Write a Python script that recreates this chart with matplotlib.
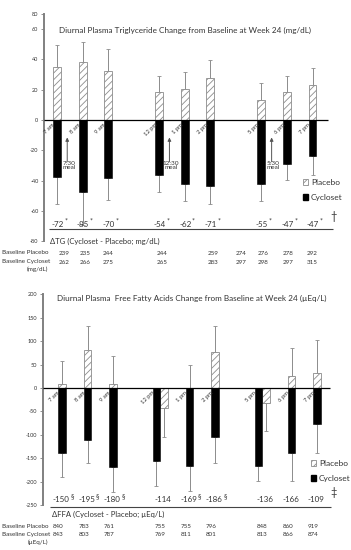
import numpy as np
import matplotlib
matplotlib.use('Agg')
import matplotlib.pyplot as plt
from matplotlib.patches import Patch

# ---------- style ---------- #
plt.rcParams['font.family'] = ['Lato', 'DejaVu Sans']
plt.rcParams['hatch.color'] = '#8c8c8c'
plt.rcParams['hatch.linewidth'] = 0.6

TXT = '#333333'
GREY = '#8c8c8c'
W, H = 351, 550

# ---------- data ---------- #
times = ['7 am', '8 am', '9 am', '12 pm', '1 pm', '2 pm', '5 pm', '6 pm', '7 pm']
slots = np.array([0, 1, 2, 4, 5, 6, 8, 9, 10])
meals = ['7:30\nmeal', '12:30\nmeal', '5:30\nmeal']
meal_slots = [0.4, 4.4, 8.4]

# triglycerides (mg/dL)
tg_placebo = np.array([35, 38.5, 32, 18.5, 20.5, 28, 13, 18.5, 23])
tg_placebo_err = np.array([14.5, 13, 15, 10.5, 11, 11.5, 11.5, 10.5, 11.5])
tg_cycloset = np.array([-37.5, -47.5, -38.5, -36.5, -42, -43.5, -42, -29, -24])
tg_cycloset_err = np.array([18, 22, 14, 11, 11.5, 12, 11.5, 10.5, 12.5])
tg_delta = ['-72', '-85', '-70', '-54', '-62', '-71', '-55', '-47', '-47']
tg_sig = [True] * 9
tg_base_placebo = ['239', '235', '244', '244', '259', '274', '276', '278', '292']
tg_base_cycloset = ['262', '266', '275', '265', '283', '297', '298', '297', '315']

# free fatty acids (uEq/L)
ffa_placebo = np.array([9, 81, 9, -43, 0, 77, -31, 26, 32])
ffa_placebo_err = np.array([49, 51, 59, 62, 49, 55, 60, 59, 71])
ffa_cycloset = np.array([-139, -111, -169, -156, -167, -105, -167, -139, -77])
ffa_cycloset_err = np.array([51, 49, 53, 53, 53, 55, 32, 60, 62])
ffa_delta = ['-150', '-195', '-180', '-114', '-169', '-186', '-136', '-166', '-109']
ffa_sig = [True, True, True, False, True, True, False, False, False]
ffa_base_placebo = ['840', '783', '761', '755', '755', '796', '848', '860', '919']
ffa_base_cycloset = ['843', '803', '787', '769', '811', '801', '813', '866', '874']


def fx(x):
    return x / W


def fy(y):
    return 1 - y / H


def style_axis(ax, ticks, labels):
    for s in ['top', 'right', 'bottom']:
        ax.spines[s].set_visible(False)
    ax.spines['left'].set_color('#808080')
    ax.spines['left'].set_linewidth(1.4)
    ax.set_xticks([])
    ax.set_yticks(ticks)
    ax.set_yticklabels(labels)
    ax.tick_params(axis='y', direction='out', length=2, width=0.6, color='#808080',
                   labelsize=4, labelcolor=TXT, pad=2)
    ax.patch.set_alpha(0)


def draw_bars(ax, placebo, p_err, cyc, c_err, width):
    # placebo drawn at the slot; when it is negative the cycloset bar moves left
    p_x = slots.astype(float)
    c_x = slots - np.where(placebo < 0, width, 0)
    ax.bar(p_x, placebo, width, color='white', edgecolor=GREY, linewidth=0.6,
           hatch='/////', zorder=3)
    ax.bar(c_x, cyc, width, color='black', edgecolor='black', linewidth=0.4, zorder=3)
    p_lo = np.where(placebo < 0, p_err, 0)
    p_hi = np.where(placebo < 0, 0, p_err)
    ax.errorbar(p_x, placebo, yerr=[p_lo, p_hi], fmt='none', ecolor=GREY,
                elinewidth=0.7, capsize=1.2, capthick=0.6, zorder=2)
    ax.errorbar(c_x, cyc, yerr=[c_err, np.zeros(len(c_err))], fmt='none', ecolor=GREY,
                elinewidth=0.7, capsize=1.2, capthick=0.6, zorder=2)
    # time labels just under the zero line, left of the leftmost bar
    for t, xl in zip(times, np.minimum(p_x, c_x) - width / 2):
        ax.annotate(t, xy=(xl, 0), xytext=(-0.5, -1.6), textcoords='offset points',
                    rotation=45, rotation_mode='anchor', ha='right', va='top',
                    fontsize=4.2, color=TXT)


def draw_delta(ax, y, labels, sig, mark, dx):
    for x, lab, s in zip(slots, labels, sig):
        ax.text(x + dx, y, lab, ha='right', va='center', fontsize=5.8, color=TXT)
        if s:
            ax.annotate(mark, xy=(x + dx, y), xytext=(0.4, 2.4), textcoords='offset points',
                        ha='left', va='center', fontsize=5, color=TXT)


fig = plt.figure(figsize=(W / 100, H / 100), dpi=100)
fig.patch.set_facecolor('white')

# ---------- top panel: triglycerides ---------- #
ax1 = fig.add_axes([fx(44), fy(241.4), fx(340) - fx(44), (241.4 - 13.8) / H])
ax1.set_xlim(-0.509, 11.076)
ax1.set_ylim(-80, 70)
style_axis(ax1, [-80, -60, -40, -20, 0, 20, 40, 60, 70],
           ['-80', '-60', '-40', '-20', '0', '20', '40', '60', '80'])

ax1.hlines(0, -0.509, 10.6, color='black', lw=0.9, zorder=4, clip_on=False)
draw_bars(ax1, tg_placebo, tg_placebo_err, tg_cycloset, tg_cycloset_err, 0.31)

for lab, ms in zip(meals, meal_slots):
    ax1.annotate('', xy=(ms, -11.5), xytext=(ms, -27.5),
                 arrowprops=dict(arrowstyle='-|>', color='#555555', lw=0.7,
                                 mutation_scale=5, shrinkA=0, shrinkB=0))
    ax1.text(ms + 0.06, -27, lab, ha='center', va='top', fontsize=4.6,
             color=TXT, linespacing=0.8)

ax1.text(5.0, 59.3, 'Diurnal Plasma Triglyceride Change from Baseline at Week 24 (mg/dL)',
         ha='center', va='center', fontsize=5.9, color=TXT)

ax1.hlines(-72, -0.31, 10.8, color='#444444', lw=0.8, clip_on=False)
draw_delta(ax1, -68.6, tg_delta, tg_sig, '*', 0.26)
ax1.text(-0.27, -79.8, 'ΔTG (Cycloset - Placebo; mg/dL)', ha='left', va='center',
         fontsize=5.5, color=TXT)

tg_table_x = [0.27, 1.1, 2.0, 4.1, 6.1, 7.2, 8.06, 9.04, 10.0]
for x, a, b in zip(tg_table_x, tg_base_placebo, tg_base_cycloset):
    ax1.text(x, -87.7, a, ha='center', va='center', fontsize=4.5, color=TXT)
    ax1.text(x, -93.6, b, ha='center', va='center', fontsize=4.5, color=TXT)

fig.text(fx(1.5), fy(253), 'Baseline Placebo', ha='left', va='center', fontsize=4.5, color=TXT)
fig.text(fx(1.5), fy(262), 'Baseline Cycloset', ha='left', va='center', fontsize=4.5, color=TXT)
fig.text(fx(48), fy(269.5), '(mg/dL)', ha='right', va='center', fontsize=4.5, color=TXT)
fig.text(fx(334), fy(216), '†', ha='center', va='center', fontsize=8, color=TXT)

handles = [Patch(facecolor='white', edgecolor=GREY, hatch='/////', linewidth=0.6),
           Patch(facecolor='black', edgecolor='black')]
fig.legend(handles, ['Placebo', 'Cycloset'], loc='center left',
           bbox_to_anchor=(fx(303), fy(190)), frameon=False, fontsize=6,
           handlelength=0.65, handleheight=0.65, handletextpad=0.3,
           labelspacing=1.0, borderpad=0, borderaxespad=0, labelcolor=TXT)

# ---------- bottom panel: free fatty acids ---------- #
ax2 = fig.add_axes([fx(43), fy(505), fx(340) - fx(43), (505 - 294.4) / H])
ax2.set_xlim(-0.745, 10.9)
ax2.set_ylim(-250, 200)
style_axis(ax2, np.arange(-250, 201, 50), [str(v) for v in np.arange(-250, 201, 50)])

ax2.hlines(0, -0.745, 10.5, color='black', lw=0.9, zorder=4, clip_on=False)
draw_bars(ax2, ffa_placebo, ffa_placebo_err, ffa_cycloset, ffa_cycloset_err, 0.3)

ax2.text(5.1, 192, 'Diurnal Plasma  Free Fatty Acids Change from Baseline at Week 24 (µEq/L)',
         ha='center', va='center', fontsize=5.9, color=TXT)

ax2.hlines(-254, -0.47, 10.55, color='#444444', lw=0.8, clip_on=False)
draw_delta(ax2, -239, ffa_delta, ffa_sig, '§', 0.3)
ax2.text(-0.39, -271, 'ΔFFA (Cycloset - Placebo; µEq/L)', ha='left', va='center',
         fontsize=5.5, color=TXT)

for x, a, b in zip(slots - 0.15, ffa_base_placebo, ffa_base_cycloset):
    ax2.text(x, -297, a, ha='center', va='center', fontsize=4.5, color=TXT)
    ax2.text(x, -312, b, ha='center', va='center', fontsize=4.5, color=TXT)

fig.text(fx(1.5), fy(527), 'Baseline Placebo', ha='left', va='center', fontsize=4.5, color=TXT)
fig.text(fx(1.5), fy(534.5), 'Baseline Cycloset', ha='left', va='center', fontsize=4.5, color=TXT)
fig.text(fx(48), fy(542), '(µEq/L)', ha='right', va='center', fontsize=4.5, color=TXT)
fig.text(fx(334), fy(492), '‡', ha='center', va='center', fontsize=8, color=TXT)

fig.legend(handles, ['Placebo', 'Cycloset'], loc='center left',
           bbox_to_anchor=(fx(311), fy(471)), frameon=False, fontsize=6,
           handlelength=0.65, handleheight=0.65, handletextpad=0.3,
           labelspacing=1.0, borderpad=0, borderaxespad=0, labelcolor=TXT)

fig.savefig('out.png', dpi=100, facecolor='white')
